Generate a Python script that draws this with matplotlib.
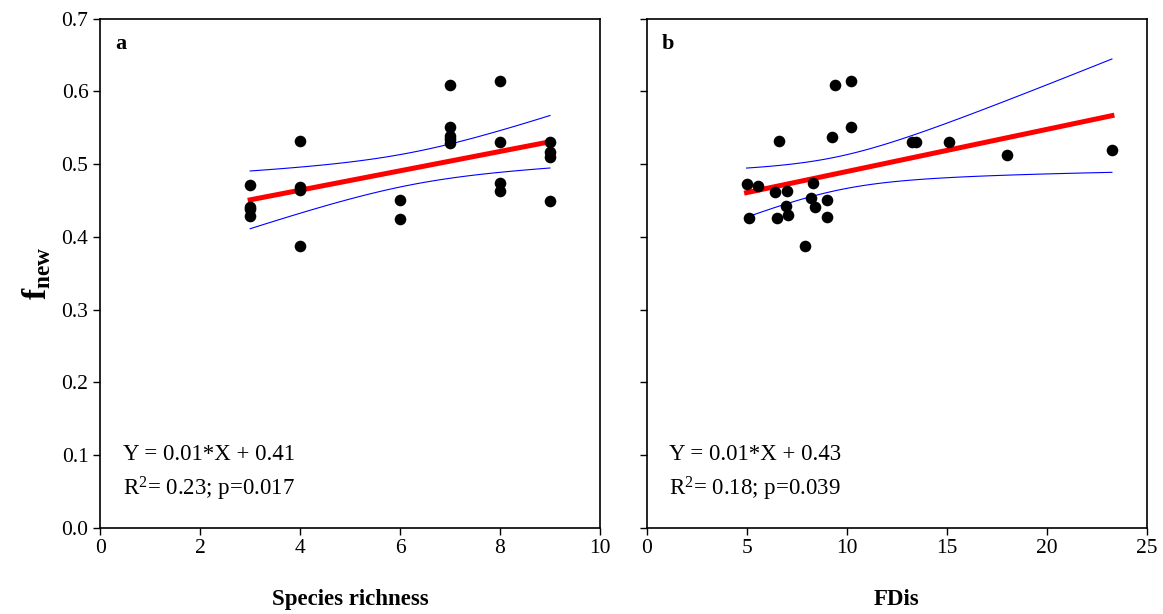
import numpy as np
import matplotlib
matplotlib.use('Agg')
import matplotlib.pyplot as plt

# 字体设置 (Times 风格)
matplotlib.rcParams['font.family'] = ['Liberation Serif', 'DejaVu Serif']
matplotlib.rcParams['mathtext.fontset'] = 'custom'
matplotlib.rcParams['mathtext.rm'] = 'Liberation Serif'
matplotlib.rcParams['mathtext.it'] = 'Liberation Serif:italic'
matplotlib.rcParams['mathtext.bf'] = 'Liberation Serif:bold'

# 数据 a: 物种丰富度
richness = [3, 3, 3, 3,
            4, 4, 4, 4,
            6, 6,
            7, 7, 7, 7, 7,
            8, 8, 8, 8,
            9, 9, 9, 9]
fnew_a = [0.471, 0.441, 0.438, 0.428,
          0.532, 0.469, 0.464, 0.387,
          0.451, 0.425,
          0.609, 0.551, 0.539, 0.534, 0.529,
          0.615, 0.530, 0.474, 0.463,
          0.530, 0.517, 0.510, 0.449]

# 数据 b: FDis
fdis = [4.99, 5.57, 5.12, 6.39, 6.52, 6.99, 6.95, 7.04, 6.59, 7.90, 8.29, 8.22,
        8.39, 9.00, 9.00, 9.25, 9.40, 10.20, 10.19, 13.25, 13.45, 15.09, 18.00, 23.25]
fnew_b = [0.472, 0.470, 0.426, 0.462, 0.426, 0.463, 0.443, 0.430, 0.532, 0.388, 0.474, 0.453,
          0.441, 0.450, 0.427, 0.538, 0.609, 0.615, 0.551, 0.531, 0.530, 0.531, 0.512, 0.519]

eq_a = ['Y = 0.01*X + 0.41', 'R$^{2}$= 0.23; p=0.017']
eq_b = ['Y = 0.01*X + 0.43', 'R$^{2}$= 0.18; p=0.039']


def fit_ci(x, y, t=2.07):
    x = np.asarray(x, float)
    y = np.asarray(y, float)
    n = len(x)
    b, a = np.polyfit(x, y, 1)
    resid = y - (a + b * x)
    s = np.sqrt(np.sum(resid ** 2) / (n - 2))
    xs = np.linspace(x.min(), x.max(), 100)
    ys = a + b * xs
    se = s * np.sqrt(1.0 / n + (xs - x.mean()) ** 2 / np.sum((x - x.mean()) ** 2))
    return xs, ys, ys - t * se, ys + t * se


fig = plt.figure(figsize=(11.63, 6.14), dpi=100)
ax1 = fig.add_axes([0.0862, 0.1406, 0.4297, 0.8289])
ax2 = fig.add_axes([0.5561, 0.1406, 0.4301, 0.8289])

panels = [(ax1, richness, fnew_a, 'a', eq_a, (0, 10), range(0, 11, 2), 'Species richness'),
          (ax2, fdis, fnew_b, 'b', eq_b, (0, 25), range(0, 26, 5), 'FDis')]

for ax, x, y, tag, eq, xlim, xt, xlab in panels:
    xs, ys, lo, hi = fit_ci(x, y)
    ax.plot(xs, hi, color='blue', lw=0.8, zorder=2)
    ax.plot(xs, lo, color='blue', lw=0.8, zorder=2)
    ax.plot(xs, ys, color='red', lw=3.6, zorder=3)
    ax.scatter(x, y, s=70, color='black', zorder=4, linewidths=0)
    ax.set_xlim(*xlim)
    ax.set_ylim(0, 0.7)
    ax.set_xticks(list(xt))
    ax.set_yticks(np.arange(0, 0.71, 0.1))
    ax.tick_params(direction='out', length=5, width=1, labelsize=15.5, top=False, right=False)
    ax.set_xlabel(xlab, fontsize=16.5, fontweight='bold', labelpad=22)
    for sp in ax.spines.values():
        sp.set_linewidth(1.2)
    ax.text(0.03, 0.95, tag, transform=ax.transAxes, fontsize=16, fontweight='bold',
            ha='left', va='center')
    ax.text(0.045, 0.143, eq[0], transform=ax.transAxes, fontsize=16.5, ha='left', va='center')
    ax.text(0.045, 0.076, eq[1], transform=ax.transAxes, fontsize=16.5, ha='left', va='center')

ax1.yaxis.set_major_formatter(matplotlib.ticker.FormatStrFormatter('%.1f'))
ax2.set_yticklabels([])
ax1.set_ylabel(r'$\mathbf{f}_{\mathbf{new}}$', fontsize=24, labelpad=6)

plt.savefig('out.png', dpi=100)
